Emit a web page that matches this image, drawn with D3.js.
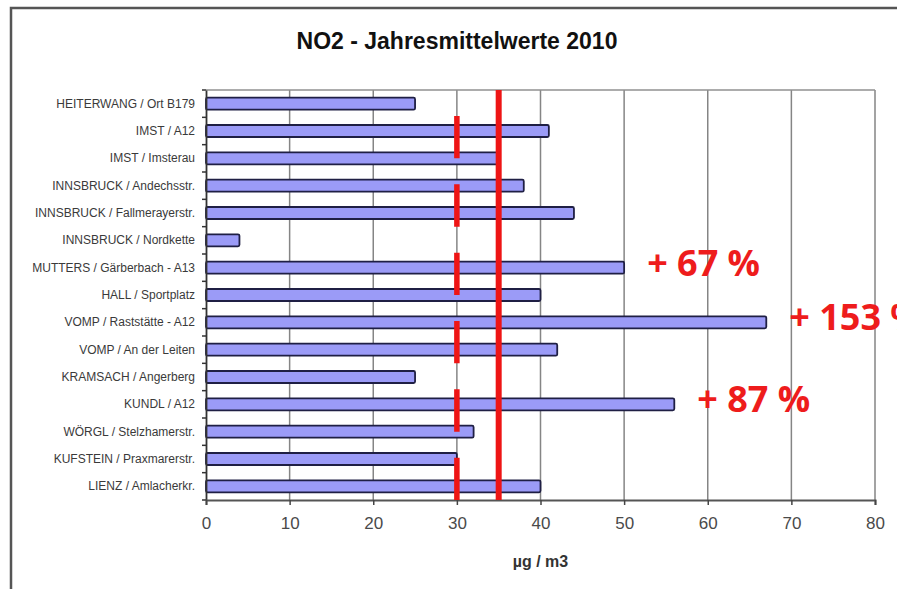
<!DOCTYPE html>
<html>
<head>
<meta charset="utf-8">
<script src="https://cdn.jsdelivr.net/npm/d3@7"></script>
<style>
  html, body { margin: 0; padding: 0; background: #fff; overflow: hidden; }
  svg { display: block; }
</style>
</head>
<body>
<svg id="chart" width="897" height="589"></svg>
<script>
// NO2 annual means 2010, Tyrol monitoring stations (µg/m³)
const stations = [
  "HEITERWANG / Ort B179",
  "IMST / A12",
  "IMST / Imsterau",
  "INNSBRUCK / Andechsstr.",
  "INNSBRUCK / Fallmerayerstr.",
  "INNSBRUCK / Nordkette",
  "MUTTERS / Gärberbach - A13",
  "HALL / Sportplatz",
  "VOMP / Raststätte - A12",
  "VOMP / An der Leiten",
  "KRAMSACH / Angerberg",
  "KUNDL / A12",
  "WÖRGL / Stelzhamerstr.",
  "KUFSTEIN / Praxmarerstr.",
  "LIENZ / Amlacherkr."
];
const values = [25, 41, 35, 38, 44, 4, 50, 40, 67, 42, 25, 56, 32, 30, 40];
const xTicks = [0, 10, 20, 30, 40, 50, 60, 70, 80];

// limit value (dashed) and limit value plus tolerance margin (solid)
const limitValue = 30;
const limitWithTolerance = 35;

// exceedance notes attached to stations
const noteStations = ["MUTTERS / Gärberbach - A13", "VOMP / Raststätte - A12", "KUNDL / A12"];
const noteTexts = ["+ 67 %", "+ 153 %", "+ 87 %"];

const svg = d3.select("#chart");
const W = 897, H = 589;
const plot = { left: 206, right: 875, top: 90, bottom: 500 };

// outer chart frame (runs off the right and bottom edges)
svg.append("path")
  .attr("d", `M11,${H + 5} L11,8 L${W + 5},8`)
  .attr("fill", "none")
  .attr("stroke", "#555")
  .attr("stroke-width", 2.5);

svg.append("text")
  .attr("x", 457).attr("y", 49)
  .attr("text-anchor", "middle")
  .attr("font-family", "Liberation Sans, Arial, sans-serif")
  .attr("font-weight", "bold")
  .attr("font-size", 23)
  .attr("fill", "#111")
  .text("NO2 - Jahresmittelwerte 2010");

const x = d3.scaleLinear().domain([0, 80]).range([plot.left, plot.right]);
const y = d3.scaleBand().domain(stations).range([plot.top, plot.bottom]).paddingInner(0.56).paddingOuter(0.28);
const yBand = d3.scaleBand().domain(stations).range([plot.top, plot.bottom]);

// vertical gridlines
svg.append("g")
  .selectAll("line")
  .data(xTicks.filter(t => t > 0))
  .join("line")
  .attr("x1", d => x(d)).attr("x2", d => x(d))
  .attr("y1", plot.top).attr("y2", plot.bottom)
  .attr("stroke", "#858585")
  .attr("stroke-width", 1.5);

// top border of the plot area
svg.append("line")
  .attr("x1", plot.left).attr("x2", plot.right)
  .attr("y1", plot.top).attr("y2", plot.top)
  .attr("stroke", "#909090")
  .attr("stroke-width", 1.5);

// bars
svg.append("g")
  .selectAll("rect")
  .data(stations.map((s, i) => ({ s, v: values[i] })))
  .join("rect")
  .attr("x", x(0))
  .attr("y", d => y(d.s))
  .attr("width", d => x(d.v) - x(0))
  .attr("height", y.bandwidth())
  .attr("rx", 1.5)
  .attr("fill", "#9b9bf7")
  .attr("stroke", "#1f1f44")
  .attr("stroke-width", 1.8);

// category axis
const yAxis = d3.axisLeft(yBand).tickSize(0).tickPadding(11);
const gy = svg.append("g").attr("transform", `translate(${plot.left},0)`).call(yAxis);
gy.select(".domain").attr("stroke", "#333").attr("stroke-width", 1.8);
gy.selectAll("text")
  .attr("font-family", "Liberation Sans, Arial, sans-serif")
  .attr("font-size", 12)
  .attr("fill", "#3a3a3a");
// small ticks between categories
gy.selectAll("line.sep")
  .data(d3.range(stations.length + 1))
  .join("line")
  .attr("class", "sep")
  .attr("x1", -4).attr("x2", 0)
  .attr("y1", i => plot.top + i * yBand.step())
  .attr("y2", i => plot.top + i * yBand.step())
  .attr("stroke", "#333")
  .attr("stroke-width", 1.5);

// value axis
const xAxis = d3.axisBottom(x).tickValues(xTicks).tickSize(5).tickPadding(12);
const gx = svg.append("g").attr("transform", `translate(0,${plot.bottom})`).call(xAxis);
gx.select(".domain").attr("stroke", "#555").attr("stroke-width", 2);
gx.selectAll(".tick line").attr("stroke", "#444").attr("stroke-width", 1.5);
gx.selectAll("text")
  .attr("font-family", "Liberation Sans, Arial, sans-serif")
  .attr("font-size", 17)
  .attr("fill", "#4a4a4a");

svg.append("text")
  .attr("x", (plot.left + plot.right) / 2).attr("y", 567)
  .attr("text-anchor", "middle")
  .attr("font-family", "Liberation Sans, Arial, sans-serif")
  .attr("font-weight", "bold")
  .attr("font-size", 16)
  .attr("fill", "#333")
  .text("µg / m3");

// limit lines
const plotH = plot.bottom - plot.top;
const period = plotH / 6;
const dash = period * 0.62;
svg.append("line")
  .attr("x1", x(limitValue)).attr("x2", x(limitValue))
  .attr("y1", plot.top).attr("y2", plot.bottom)
  .attr("stroke", "#ee1515")
  .attr("stroke-width", 5.5)
  .attr("stroke-dasharray", `${dash} ${period - dash}`)
  .attr("stroke-dashoffset", dash);

svg.append("line")
  .attr("x1", x(limitWithTolerance)).attr("x2", x(limitWithTolerance))
  .attr("y1", plot.top).attr("y2", plot.bottom)
  .attr("stroke", "#ee1515")
  .attr("stroke-width", 6);

// exceedance notes
svg.append("g")
  .selectAll("text")
  .data(noteStations.map((s, i) => ({ s, t: noteTexts[i], v: values[stations.indexOf(s)] })))
  .join("text")
  .attr("x", d => x(d.v) + 23)
  .attr("y", d => y(d.s) + y.bandwidth() / 2 + 8)
  .attr("font-family", "Open Sans, sans-serif")
  .attr("font-weight", "bold")
  .attr("font-size", 36)
  .attr("fill", "#ee1c1c")
  .text(d => d.t);
</script>
</body>
</html>
